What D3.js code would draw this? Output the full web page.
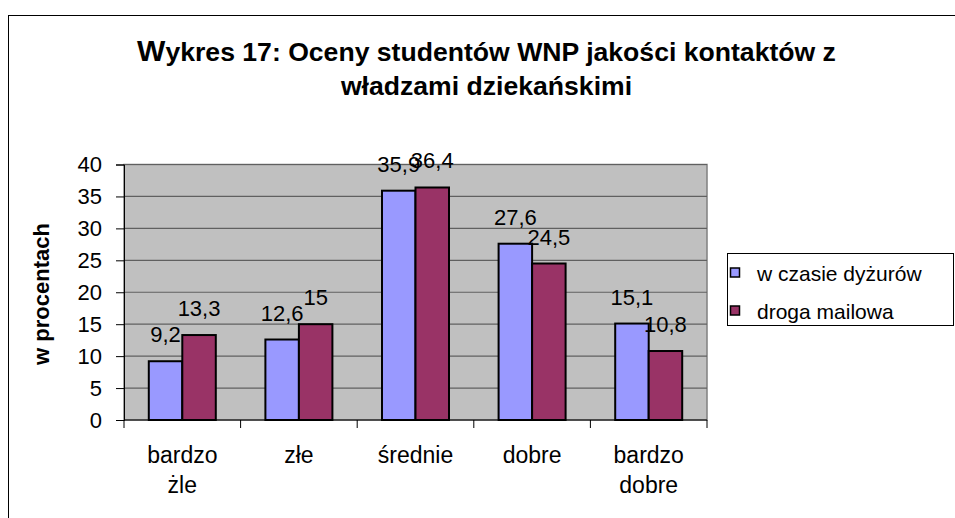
<!DOCTYPE html>
<html><head><meta charset="utf-8">
<script src="https://cdn.jsdelivr.net/npm/d3@7"></script>
<style>body{margin:0;background:#fff}svg{display:block;font-family:"Liberation Sans",Arial,sans-serif}</style>
</head><body><svg id="c" width="955" height="518"></svg>
<script>
const categories = [["bardzo","żle"],["złe"],["średnie"],["dobre"],["bardzo","dobre"]];
const seriesNames = ["w czasie dyżurów","droga mailowa"];
const dyzury = [9.2,12.6,35.9,27.6,15.1];
const mailowa = [13.3,15,36.4,24.5,10.8];
const yTicks = [0,5,10,15,20,25,30,35,40];
const colors = ["#9999FF","#993366"];
const fmt = v => String(v).replace(".", ",");

const svg = d3.select("#c");
svg.append("rect").attr("x",8.5).attr("y",15.5).attr("width",1000).attr("height",1000)
  .attr("fill","#fff").attr("stroke","#000").attr("stroke-width",1);

const L=124,R=707,T=164.5,B=420;
const x0 = d3.scaleBand().domain(d3.range(categories.length)).range([L,R]);
const x1 = d3.scaleBand().domain([0,1]).range([0,67]);
const y = d3.scaleLinear().domain([0,40]).range([B,T]);

svg.append("rect").attr("x",L).attr("y",T).attr("width",R-L).attr("height",B-T)
  .attr("fill","#C0C0C0").attr("stroke","#808080").attr("stroke-width",1.5);
svg.append("g").selectAll("line").data(yTicks.filter(d=>d>0)).join("line")
  .attr("x1",L).attr("x2",R).attr("y1",d=>y(d)).attr("y2",d=>y(d))
  .attr("stroke","#606060").attr("stroke-width",1.2);

const ya = svg.append("g").attr("transform",`translate(${L},0)`)
  .call(d3.axisLeft(y).tickValues(yTicks).tickSize(8).tickPadding(14));
ya.select(".domain").attr("stroke","#000");
ya.selectAll("line").attr("stroke","#000");
ya.selectAll("text").attr("font-size",22).attr("fill","#000").attr("font-family","Liberation Sans, Arial");

svg.append("line").attr("x1",L).attr("x2",R).attr("y1",B).attr("y2",B).attr("stroke","#000");
svg.append("g").selectAll("line").data(d3.range(categories.length+1)).join("line")
  .attr("x1",i=>L+i*x0.step()).attr("x2",i=>L+i*x0.step()).attr("y1",B).attr("y2",B+8).attr("stroke","#000");
svg.append("g").selectAll("text").data(categories).join("text")
  .attr("text-anchor","middle").attr("font-size",23)
  .attr("transform",(d,i)=>`translate(${x0(i)+x0.bandwidth()/2},463)`)
  .selectAll("tspan").data(d=>d).join("tspan").attr("x",0).attr("y",(d,j)=>j*30).text(d=>d);

const series=[dyzury,mailowa];
const g = svg.append("g");
series.forEach((s,si)=>{
  g.selectAll(".b"+si).data(s).join("rect")
    .attr("x",(d,i)=>x0(i)+24.8+x1(si)).attr("width",x1.bandwidth())
    .attr("y",d=>y(d)).attr("height",d=>B-y(d))
    .attr("fill",colors[si]).attr("stroke","#000").attr("stroke-width",2);
});
series.forEach((s,si)=>{
  svg.append("g").selectAll("text").data(s).join("text")
    .attr("x",(d,i)=>x0(i)+24.8+x1(si)+x1.bandwidth()/2).attr("y",d=>y(d)-19)
    .attr("text-anchor","middle").attr("font-size",22).text(fmt);
});

const t = svg.append("text").attr("text-anchor","middle").attr("font-weight","bold").attr("font-size",26.6);
const l1 = t.append("tspan").attr("x",486.5).attr("y",61);
l1.append("tspan").attr("font-size",30).text("W");
l1.append("tspan").text("ykres 17: Oceny studentów WNP jakości kontaktów z");
t.append("tspan").attr("x",486.5).attr("y",95).text("władzami dziekańskimi");

svg.append("text").attr("transform","translate(49,294) rotate(-90)").attr("text-anchor","middle")
  .attr("font-weight","bold").attr("font-size",22).text("w procentach");

svg.append("rect").attr("x",727.5).attr("y",253.5).attr("width",226).attr("height",72)
  .attr("fill","#fff").attr("stroke","#000").attr("stroke-width",1);
const lg = svg.append("g").selectAll("g").data(seriesNames).join("g")
  .attr("transform",(d,i)=>`translate(730,${273+i*38})`);
lg.append("rect").attr("x",0.5).attr("y",-5).attr("width",9).attr("height",9)
  .attr("fill",(d,i)=>colors[i]).attr("stroke","#000").attr("stroke-width",1.5);
lg.append("text").attr("x",27).attr("y",7.5).attr("font-size",21).text(d=>d);
</script></body></html>
